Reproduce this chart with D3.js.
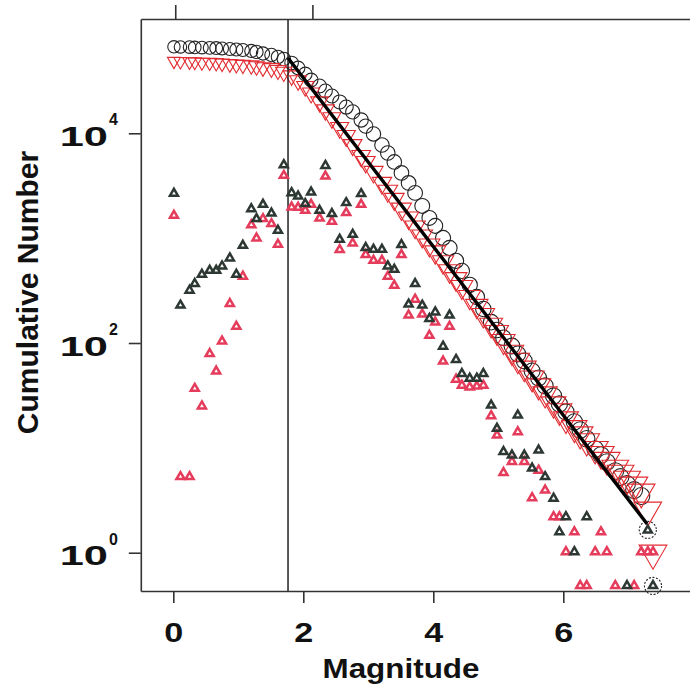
<!DOCTYPE html>
<html>
<head>
<meta charset="utf-8">
<script src="https://cdn.jsdelivr.net/npm/d3@7"></script>
<style>
  body { margin: 0; background: #fff; }
  text { font-family: "Liberation Sans", Arial, sans-serif; font-weight: bold; fill: #111; }
</style>
</head>
<body>
<svg id="main" width="690" height="691"></svg>
<script>
// magnitude of each bin
var binMag = [0.01, 0.11, 0.25, 0.33, 0.44, 0.56, 0.66, 0.75, 0.87, 0.97,
  1.07, 1.20, 1.28, 1.38, 1.51, 1.61, 1.70, 1.82, 1.92, 2.03,
  2.12, 2.25, 2.34, 2.44, 2.56, 2.66, 2.76, 2.89, 2.96, 3.08,
  3.21, 3.30, 3.40, 3.51, 3.62, 3.72, 3.83, 3.94, 4.03, 4.15,
  4.25, 4.35, 4.44, 4.56, 4.67, 4.77, 4.89, 4.98, 5.08, 5.21,
  5.30, 5.40, 5.52, 5.62, 5.72, 5.85, 5.94, 6.04, 6.17, 6.26,
  6.36, 6.49, 6.58, 6.67, 6.80, 6.88, 6.98, 7.09, 7.20, 7.30, 7.38];

// cumulative number, whole catalogue (circles)
var cumAll = [66800, 66600, 66400, 65900, 65700, 65200, 65000, 64400, 63700, 63000,
  62300, 61000, 59700, 57700, 55800, 53400, 51100, 46800, 42000, 36800,
  32200, 28300, 25300, 22700, 19900, 17800, 16000, 13400, 11700, 9860,
  7740, 6490, 5330, 4190, 3360, 2700, 2030, 1560, 1310, 1005,
  807, 607, 487, 358, 275, 211, 158, 133, 112, 93.7,
  78.6, 67.4, 54.1, 46.4, 39, 31.3, 26.2, 22, 17.7, 14.8,
  12.2, 9.76, 8.55, 7.33, 6.01, 5.27, 4.52, 3.96, 3.47, 1.65, 0.482];

// cumulative number, subset (inverted triangles)
var cumSub = [48800, 48600, 48200, 48000, 47600, 47500, 47100, 46600, 46000, 45500,
  45000, 44500, 43600, 42600, 41700, 40000, 38400, 35400, 31800, 28000,
  24200, 19900, 16700, 14000, 11300, 9450, 7740, 6080, 5330, 4280,
  3360, 2820, 2360, 1900, 1560, 1280, 1050, 861, 738, 593,
  487, 409, 343, 275, 226, 185, 149, 127, 104, 82,
  68.8, 57.8, 46.4, 39, 32.7, 26.2, 22.5, 18.8, 15.5, 13.5,
  11.6, 9.76, 8.73, 7.66, 6.43, 5.77, 5.05, 4.43, 3.79, 2.55, 0.99];

// number per bin (small triangles), null = empty bin
var binAll = [2670, 229, 318, 368, 451, 492, 492, 541, 645, 451,
  851, 1900, 1530, 2094, 1730, 1185, 5000, 2706, 2512, 2128,
  2742, 1836, 4920, 1708, 972, 2173, 1084, 2649, 810, 780,
  780, 541, 503, 865, 234, 368, 229, 171, 197, 93,
  184, 69.5, 51, 46, 46, 51, 25.5, 15.3, 9.2, 8.5,
  20.5, 8.5, 6.4, 9.5, 5.3, 3.3, 1.58, 2.2, 1.02, null,
  2.2, null, null, null, null, null, 0.485, null, null, 1.64, 0.485];

var binSub = [1645, 5.3, 5.3, 36.8, 25, 79, 53.8, 104, 237, 144,
  432, 1336, 1000, 1530, 1371, 871, 3955, 1973, 1960, 1836,
  2094, 1550, 3893, 1442, 776, 1745, 896, 2094, 695, 613,
  613, 432, 354, 695, 184, 261, 188, 118, 158, 67,
  144, 45, 39.5, 38, 38.7, 39.5, 20.2, 13.2, 5.8, 7.4,
  14.2, 7.4, 3.34, 6.1, 3.95, 2.2, 2.2, 1.02, 1.58, 0.485,
  0.485, 1.02, 1.58, 1.02, 0.485, null, null, 0.485, 1.02, 1.02, 1.02];

// fitted Gutenberg-Richter line and completeness magnitude
var fitMag = [1.765, 7.29];
var fitN = [52200, 1.88];
var cutMag = 1.765;

var xTicks = [0, 2, 4, 6];
var topTicks = [0.03, 2.14];
var yTicks = [1, 100, 10000];

var svg = d3.select("#main");

var x = d3.scaleLinear().domain([-0.5, 8]).range([140.8, 693.3]);
var y = d3.scaleLog().domain([0.4315, 123000]).range([591, 19]);

var axisColor = "#333";

/*
	=============Markers=============
*/
var circleSym = d3.symbol().type(d3.symbolCircle)
  .size(function(m) { var r = 6.2 + 0.32 * m; return Math.PI * r * r; });
var triSym = d3.symbol().type(d3.symbolTriangle)
  .size(function(m) { var s = 13 + 2 * m; return Math.sqrt(3) / 4 * s * s; });
var smallTri = d3.symbol().type(d3.symbolTriangle).size(28);

var last = binMag.length - 1;

svg.append("g").selectAll("path")
  .data(binMag)
  .join("path")
  .attr("d", function(m) { return circleSym(m); })
  .attr("transform", function(m, i) { return "translate(" + x(m) + "," + y(cumAll[i]) + ")"; })
  .style("fill", "none")
  .style("stroke", "#222")
  .style("stroke-width", 1.1)
  .style("stroke-dasharray", function(m, i) { return i >= last - 1 ? "2,1.6" : null; });

svg.append("g").selectAll("path")
  .data(binMag)
  .join("path")
  .attr("d", function(m) { return triSym(m); })
  .attr("transform", function(m, i) { return "translate(" + x(m) + "," + y(cumSub[i]) + ") rotate(180)"; })
  .style("fill", "none")
  .style("stroke", "#e22b30")
  .style("stroke-width", 1.1);

// fitted line
svg.append("line")
  .attr("x1", x(fitMag[0])).attr("y1", y(fitN[0]))
  .attr("x2", x(fitMag[1])).attr("y2", y(fitN[1]))
  .style("stroke", "#000")
  .style("stroke-width", 3.4);

// completeness magnitude
svg.append("line")
  .attr("x1", x(cutMag)).attr("x2", x(cutMag))
  .attr("y1", y.range()[1]).attr("y2", y.range()[0])
  .style("stroke", "#111")
  .style("stroke-width", 1.4);

function drawBins(values, color) {
  var pts = binMag.map(function(m, i) { return {m: m, v: values[i]}; })
    .filter(function(d) { return d.v != null; });
  svg.append("g").selectAll("path")
    .data(pts)
    .join("path")
    .attr("d", smallTri())
    .attr("transform", function(d) { return "translate(" + x(d.m) + "," + y(d.v) + ")"; })
    .style("fill", "none")
    .style("stroke", color)
    .style("stroke-width", 2.5);
}
drawBins(binSub, "#e63c5c");
drawBins(binAll, "#2d3833");

/*
	=============Axes=============
*/
var gBottom = svg.append("g")
  .attr("transform", "translate(0," + y.range()[0] + ")")
  .call(d3.axisBottom(x).tickValues(xTicks).tickSize(12).tickSizeOuter(0).tickPadding(19).tickFormat(d3.format("d")));
gBottom.selectAll("text")
  .style("font-size", "28px")
  .attr("transform", "scale(1.22,1)");

var gTop = svg.append("g")
  .attr("transform", "translate(0," + y.range()[1] + ")")
  .call(d3.axisTop(x).tickValues(topTicks).tickSize(14).tickSizeOuter(0).tickFormat(""));

var gLeft = svg.append("g")
  .attr("transform", "translate(" + x.range()[0] + ",0)")
  .call(d3.axisLeft(y).tickValues(yTicks).tickSize(12).tickSizeOuter(0).tickFormat(""));

var gRight = svg.append("g")
  .attr("transform", "translate(" + x.range()[1] + ",0)")
  .call(d3.axisRight(y).tickValues([]).tickSizeOuter(0));

[gBottom, gTop, gLeft, gRight].forEach(function(g) {
  g.selectAll("path, line").style("stroke", axisColor).style("stroke-width", 1.6);
});

// 10^n labels
var yLab = svg.append("g").selectAll("g")
  .data(yTicks)
  .join("g")
  .attr("transform", function(d) { return "translate(108," + y(d) + ")"; });
yLab.append("text")
  .attr("y", 12.5)
  .attr("text-anchor", "end")
  .attr("transform", "scale(1.55,1)")
  .style("font-size", "28px")
  .text("10");
yLab.append("text")
  .attr("x", 1)
  .attr("y", -8)
  .style("font-size", "16px")
  .text(function(d) { return Math.round(Math.log10(d)); });

// axis titles
svg.append("text")
  .attr("x", 401).attr("y", 678)
  .attr("text-anchor", "middle")
  .attr("textLength", 157)
  .attr("lengthAdjust", "spacingAndGlyphs")
  .style("font-size", "28px")
  .text("Magnitude");

svg.append("text")
  .attr("transform", "translate(38,292.5) rotate(-90)")
  .attr("text-anchor", "middle")
  .style("font-size", "30px")
  .text("Cumulative Number");
</script>
</body>
</html>
